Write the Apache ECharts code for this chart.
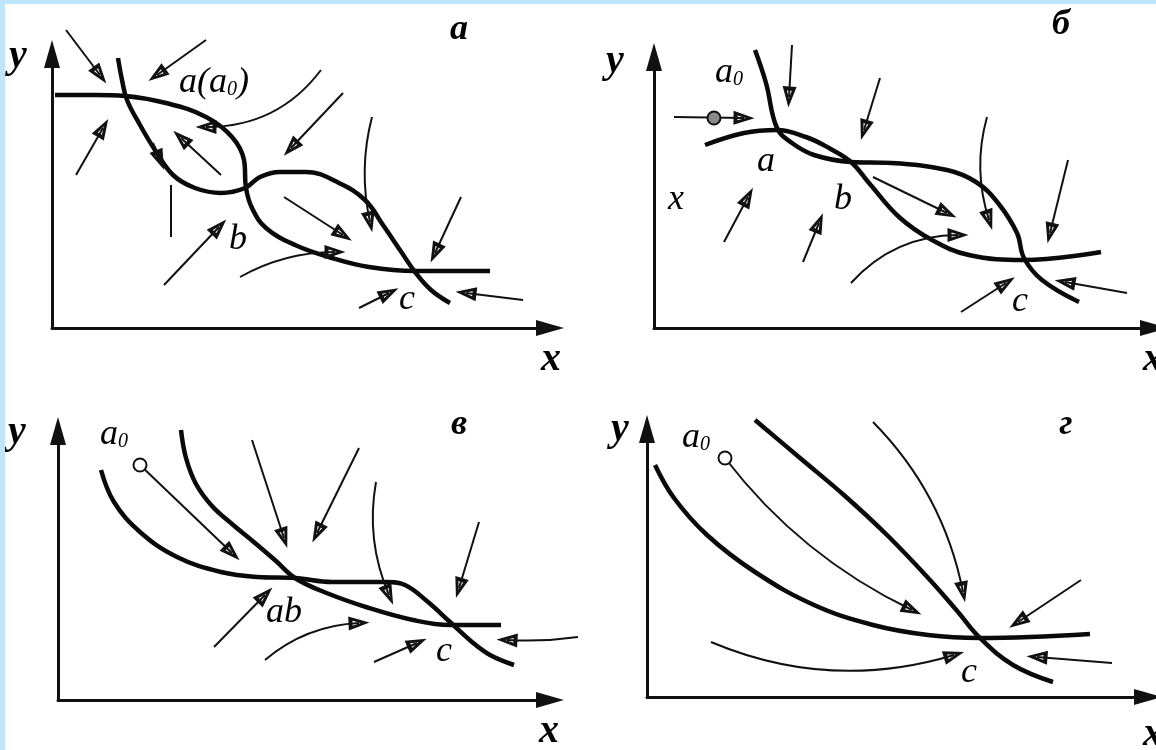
<!DOCTYPE html>
<html>
<head>
<meta charset="utf-8">
<script src="https://cdn.jsdelivr.net/npm/echarts@6/dist/echarts.min.js"></script>
<style>
html,body{margin:0;padding:0;background:#fff;}
#chart{width:1156px;height:750px;}
</style>
</head>
<body>
<div id="chart"></div>
<script>
// ---------- Panel а ----------
const aCurve1 = [[0.3,23.3],[4.3,23.3],[7.3,23.2],[11.4,22.5],[15.4,21.1],[18.0,19.1],[19.2,16.8],[19.4,14.0],[20.0,12.0],[21.4,10.0],[24.3,8.3],[28.0,7.0],[31.7,6.1],[36.3,5.7],[43.8,5.7]];
const aCurve2 = [[6.6,27.0],[7.0,24.8],[7.5,22.8],[8.8,20.3],[10.3,17.8],[12.1,15.3],[14.3,14.0],[16.9,13.5],[19.3,14.0],[20.8,15.1],[22.8,15.6],[25.4,15.6],[28.7,14.5],[31.3,12.8],[33.1,10.3],[35.0,7.5],[36.3,5.6],[37.9,3.8],[39.8,2.5]];
// [x1, y1, x2, y2, curveness]
const aArrows = [[1.4,29.8,4.8,25.3,0],[15.4,28.8,10.5,25.3,0],[2.4,15.3,5.1,20.0,0],[26.9,25.8,15.4,20.1,0.25],[16.9,15.3,12.9,19.0,0],[10.1,18.5,10.8,16.8,0],[29.1,23.5,23.9,18.0,0],[11.2,4.3,16.7,10.1,0],[32.0,21.1,31.8,10.6,-0.12],[23.2,13.1,29.1,9.3,0],[18.8,5.1,28.3,7.6,0.13],[40.9,13.1,38.3,7.5,0],[30.7,2.0,33.7,3.5,0],[47.1,2.8,41.4,3.5,0]];
const aStems = [[11.9,14.3,11.9,9.1,0]];
const aStarts = [];
const aLabels = [['a(a_0)',16.2,24.5],['b',18.6,8.8],['c',35.5,2.8]];
const aTitle = [['а',40.7,29.8]];
const aAxisNames = [['y',-3.4,27.1],['x',49.9,-3.2]];

// ---------- Panel б ----------
const bCurve1 = [[10.1,27.8],[11.2,24.5],[12.3,20.0],[13.8,18.5],[16.0,17.3],[19.7,16.6],[23.7,16.5],[29.3,15.8],[32.2,14.6],[34.4,12.5],[36.3,9.5],[37.0,7.0],[38.8,4.8],[42.5,2.6]];
const bCurve2 = [[5.1,18.3],[9.0,19.5],[12.3,19.8],[15.2,19.1],[17.5,18.0],[19.7,16.6],[21.5,14.5],[24.5,11.1],[27.8,8.8],[31.5,7.3],[37.0,6.8],[44.7,7.6]];
const bArrows = [[2.0,21.1,9.0,21.0,0],[13.8,28.3,13.5,23.1,0],[22.6,25.0,21.0,19.8,0],[7.0,8.6,9.4,13.1,0],[14.9,6.6,16.5,10.5,0],[21.9,15.1,29.3,11.5,0],[33.3,21.1,33.5,10.8,-0.15],[19.7,4.5,30.4,9.3,0.22],[41.4,16.8,39.6,9.5,0],[30.7,1.6,35.2,4.5,0],[47.3,3.5,41.1,4.6,0]];
const bStems = [];
const bStarts = [[6.0,21.0]];
const bLabels = [['a_0',7.5,25.5],['a',11.2,16.6],['x',2.2,12.8],['b',18.9,12.8],['c',36.6,2.6]];
const bTitle = [['б',40.7,30.3]];
const bAxisNames = [['y',-3.9,26.6],['x',49.9,-3.2]];

// ---------- Panel в ----------
const vCurve1 = [[4.3,23.0],[5.6,19.8],[8.2,16.8],[11.9,14.3],[16.3,12.8],[20.0,12.3],[23.7,12.2],[27.4,11.8],[32.9,11.8],[34.7,11.5],[37.0,9.8],[39.2,7.8],[41.4,5.8],[43.2,4.5],[45.6,3.5]];
const vCurve2 = [[12.3,27.0],[12.8,24.2],[13.8,21.6],[15.4,19.4],[17.4,17.6],[19.7,15.7],[21.8,13.9],[23.7,12.2],[26.6,10.8],[31.1,9.2],[35.5,8.0],[39.2,7.5],[44.3,7.5]];
const vArrows = [[8.2,23.5,17.4,14.7,0],[19.4,26.0,22.6,16.2,0],[30.1,25.2,25.9,16.7,0],[31.8,21.8,33.1,10.5,-0.15],[15.6,5.3,20.7,10.5,0],[20.7,4.0,30.1,7.7,0.17],[42.1,17.8,40.1,11.2,0],[31.6,3.8,35.9,5.7,0],[52.0,6.3,44.9,6.0,0.05]];
const vStems = [];
const vStarts = [[8.2,23.5]];
const vLabels = [['a_0',5.6,26.5],['ab',22.6,8.7],['c',38.6,4.8]];
const vTitle = [['в',40.1,27.5]];
const vAxisNames = [['y',-4.1,26.7],['x',49.1,-3.2]];

// ---------- Panel г ----------
const gCurve1 = [[0.8,23.2],[2.7,19.9],[6.0,16.2],[10.8,12.5],[16.7,9.2],[22.6,7.2],[28.1,6.2],[33.3,5.9],[44.3,6.3]];
const gCurve2 = [[10.8,27.7],[15.3,23.9],[19.8,20.1],[24.1,16.1],[28.3,11.7],[31.1,8.5],[33.3,5.9],[36.6,3.2],[40.6,1.5]];
const gArrows = [[7.8,23.9,26.5,8.7,-0.12],[22.6,27.5,31.6,10.5,0.15],[43.4,11.7,37.1,7.5,0],[6.4,5.5,30.7,4.2,-0.18],[46.5,3.4,39.0,4.0,0]];
const gStems = [];
const gStarts = [[7.8,23.9]];
const gLabels = [['a_0',4.9,25.9],['c',32.2,2.4]];
const gTitle = [['г',41.9,27.2]];
const gAxisNames = [['y',-2.7,26.7],['x',50.6,-3.8]];

// ---------- layout ----------
const panels = [
  {grid:{left:52,top:54,width:498,height:274}, xmax:49.8, ymax:27.4, curves:[aCurve1,aCurve2], arrows:aArrows, stems:aStems, starts:aStarts, startFill:'#fff', labels:aLabels, title:aTitle, names:aAxisNames},
  {grid:{left:654,top:57,width:500,height:271}, xmax:50.0, ymax:27.1, curves:[bCurve1,bCurve2], arrows:bArrows, stems:bStems, starts:bStarts, startFill:'#8a8a8a', labels:bLabels, title:bTitle, names:bAxisNames},
  {grid:{left:58,top:431,width:492,height:269}, xmax:49.2, ymax:26.9, curves:[vCurve1,vCurve2], arrows:vArrows, stems:vStems, starts:vStarts, startFill:'#fff', labels:vLabels, title:vTitle, names:vAxisNames},
  {grid:{left:647,top:429,width:501,height:268}, xmax:50.1, ymax:26.8, curves:[gCurve1,gCurve2], arrows:gArrows, stems:gStems, starts:gStarts, startFill:'#fff', labels:gLabels, title:gTitle, names:gAxisNames}
];

const INK = '#000';
const SERIF = '"Liberation Serif","DejaVu Serif",serif';
const OPEN_ARROW = 'path://M10,0 L20,26 L0,26 Z M10,11 L6.5,21 L13.5,21 Z';

function fmtText(s){ return s.replace(/_(\w)/g, '{s|$1}'); }

const grids = [], xAxes = [], yAxes = [], series = [];
panels.forEach((p, i) => {
  grids.push(Object.assign({outerBoundsMode:'none', containLabel:false}, p.grid));
  const axisBase = {
    type:'value', gridIndex:i, min:0,
    axisLine:{show:true, onZero:false, lineStyle:{color:'#111', width:3}, symbol:['none','triangle'], symbolSize:[16,28]},
    axisTick:{show:false}, axisLabel:{show:false}, splitLine:{show:false}
  };
  xAxes.push(Object.assign({}, axisBase, {max:p.xmax}));
  yAxes.push(Object.assign({}, axisBase, {max:p.ymax}));

  p.curves.forEach(c => series.push({
    type:'line', xAxisIndex:i, yAxisIndex:i, data:c, smooth:0.4, showSymbol:false, symbol:'none',
    lineStyle:{color:'#0a0a0a', width:4.5}, clip:false, silent:true, z:3, animation:false
  }));

  const toLines = arr => arr.map(a => ({coords:[[a[0],a[1]],[a[2],a[3]]], lineStyle:{curveness:a[4]||0}}));
  series.push({
    type:'lines', coordinateSystem:'cartesian2d', xAxisIndex:i, yAxisIndex:i,
    data:toLines(p.arrows), symbol:['none', OPEN_ARROW], symbolSize:[1,[14,21]],
    lineStyle:{color:'#111', width:2, opacity:1}, clip:false, silent:true, z:4, animation:false
  });
  if (p.stems.length) series.push({
    type:'lines', coordinateSystem:'cartesian2d', xAxisIndex:i, yAxisIndex:i,
    data:toLines(p.stems), symbol:['none','none'],
    lineStyle:{color:'#111', width:2, opacity:1}, clip:false, silent:true, z:4, animation:false
  });
  if (p.starts.length) series.push({
    type:'scatter', xAxisIndex:i, yAxisIndex:i, data:p.starts, symbol:'circle', symbolSize:13,
    itemStyle:{color:p.startFill, borderColor:'#111', borderWidth:2, opacity:1}, clip:false, silent:true, z:5, animation:false
  });

  const labelSeries = (arr, style) => ({
    type:'scatter', xAxisIndex:i, yAxisIndex:i, symbolSize:1, itemStyle:{color:'rgba(0,0,0,0)', opacity:1},
    data:arr.map(l => ({name:l[0], value:[l[1], l[2]]})),
    label:Object.assign({show:true, position:'inside', color:INK, opacity:1, textBorderWidth:0, fontFamily:SERIF, fontStyle:'italic',
      formatter:q => fmtText(q.name),
      rich:{s:{fontSize:20, fontFamily:SERIF, fontStyle:'italic', color:INK, padding:[14,0,0,0]}}}, style),
    clip:false, silent:true, z:6, animation:false
  });
  series.push(labelSeries(p.labels, {fontSize:36}));
  series.push(labelSeries(p.title, {fontSize:36, fontWeight:'bold'}));
  series.push(labelSeries(p.names, {fontSize:40, fontWeight:'bold'}));
});

const chart = echarts.init(document.getElementById('chart'), null, {renderer:'canvas'});
chart.setOption({
  backgroundColor:'#ffffff',
  animation:false,
  grid:grids, xAxis:xAxes, yAxis:yAxes, series:series,
  graphic:[
    {type:'rect', shape:{x:0,y:0,width:1156,height:4}, style:{fill:'#bde6fa'}, silent:true, z:100},
    {type:'rect', shape:{x:0,y:0,width:5,height:750}, style:{fill:'#bde6fa'}, silent:true, z:100}
  ]
});
</script>
</body>
</html>
